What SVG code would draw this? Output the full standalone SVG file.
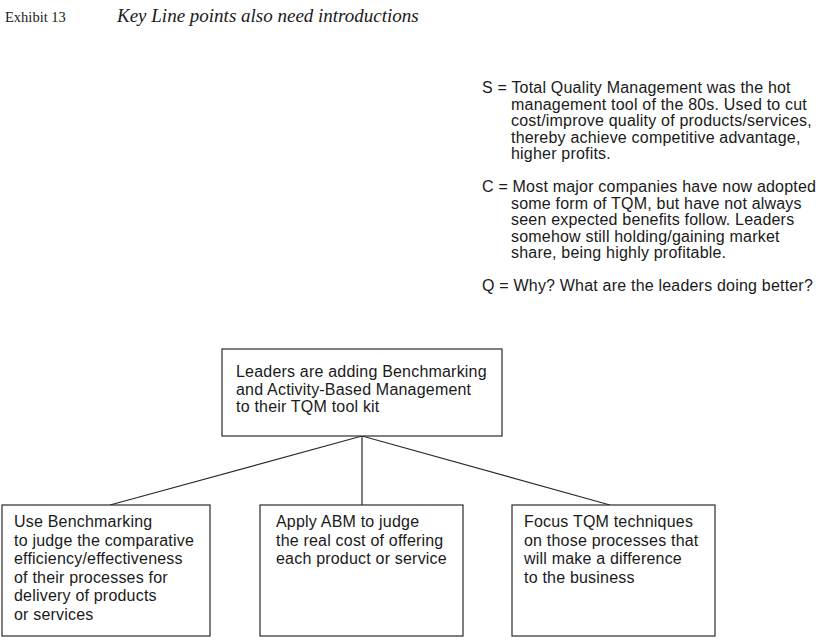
<svg xmlns="http://www.w3.org/2000/svg" width="818" height="640" viewBox="0 0 818 640">
<style>
.bg{fill:#ffffff}
.box{fill:#ffffff;stroke:#2a2a2a;stroke-width:1.2}
.t{font-family:"Liberation Sans",Arial,sans-serif;font-size:16px;letter-spacing:0.2px;fill:#1a1a1a}
.con{stroke:#2a2a2a;stroke-width:1.2;fill:none}
.ex{font-family:"Liberation Serif","Times New Roman",serif;font-size:14.5px;fill:#1a1a1a}
.title{font-family:"Liberation Serif","Times New Roman",serif;font-style:italic;font-size:19px;fill:#1a1a1a}
</style>
<rect class="bg" x="0" y="0" width="818" height="640"/>
<g id="title">
<text class="ex" x="5" y="22">Exhibit 13</text>
<text class="title" x="117" y="22">Key Line points also need introductions</text>
</g>
<g id="scq">
<text class="t" x="482" y="93">S = Total Quality Management was the hot</text>
<text class="t" x="511" y="109.5">management tool of the 80s. Used to cut</text>
<text class="t" x="511" y="126">cost/improve quality of products/services,</text>
<text class="t" x="511" y="142.5">thereby achieve competitive advantage,</text>
<text class="t" x="511" y="159">higher profits.</text>
<text class="t" x="482" y="192">C = Most major companies have now adopted</text>
<text class="t" x="511" y="208.5">some form of TQM, but have not always</text>
<text class="t" x="511" y="225">seen expected benefits follow. Leaders</text>
<text class="t" x="511" y="241.5">somehow still holding/gaining market</text>
<text class="t" x="511" y="258">share, being highly profitable.</text>
<text class="t" x="482" y="291">Q = Why? What are the leaders doing better?</text>
</g>
<g id="connectors">
<line class="con" x1="362" y1="436" x2="110" y2="505"/>
<line class="con" x1="362" y1="436" x2="362" y2="505"/>
<line class="con" x1="362" y1="436" x2="610" y2="505"/>
</g>
<g id="top">
<rect class="box" x="222" y="349" width="280" height="87"/>
<text class="t" x="236" y="377">Leaders are adding Benchmarking</text>
<text class="t" x="236" y="394.5">and Activity-Based Management</text>
<text class="t" x="236" y="412">to their TQM tool kit</text>
</g>
<g id="left">
<rect class="box" x="2" y="505" width="208" height="131"/>
<text class="t" x="14" y="527">Use Benchmarking</text>
<text class="t" x="14" y="545.5">to judge the comparative</text>
<text class="t" x="14" y="564">efficiency/effectiveness</text>
<text class="t" x="14" y="582.5">of their processes for</text>
<text class="t" x="14" y="601">delivery of products</text>
<text class="t" x="14" y="619.5">or services</text>
</g>
<g id="middle">
<rect class="box" x="260" y="505" width="203" height="131"/>
<text class="t" x="276" y="527">Apply ABM to judge</text>
<text class="t" x="276" y="545.5">the real cost of offering</text>
<text class="t" x="276" y="564">each product or service</text>
</g>
<g id="right">
<rect class="box" x="512" y="505" width="203" height="131"/>
<text class="t" x="524" y="527">Focus TQM techniques</text>
<text class="t" x="524" y="545.5">on those processes that</text>
<text class="t" x="524" y="564">will make a difference</text>
<text class="t" x="524" y="582.5">to the business</text>
</g>
</svg>
